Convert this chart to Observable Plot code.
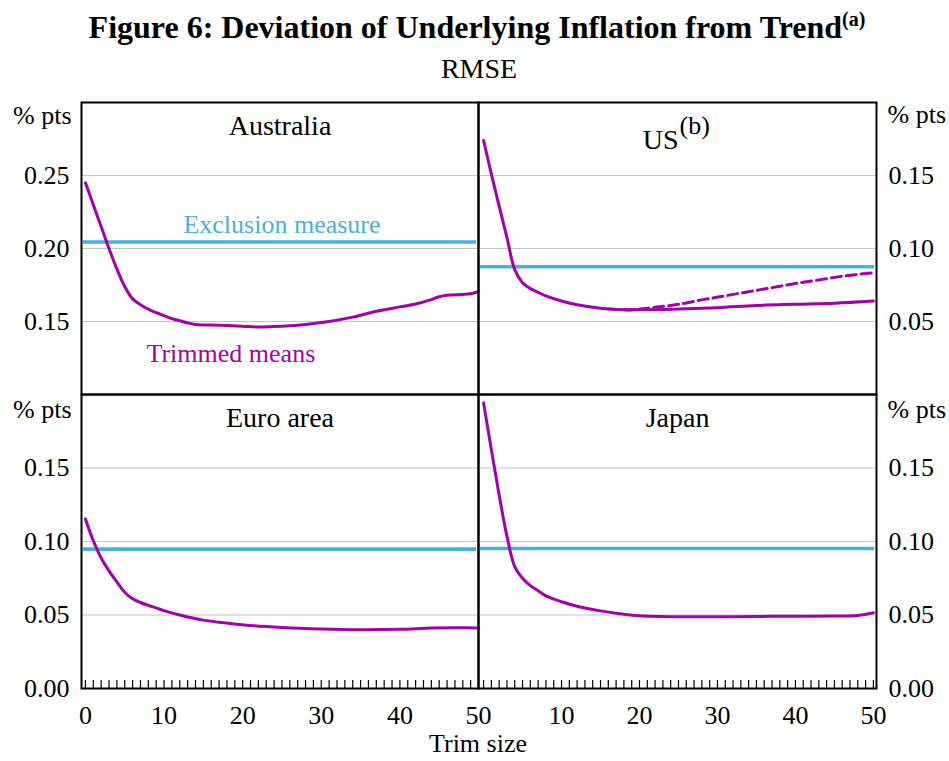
<!DOCTYPE html>
<html><head><meta charset="utf-8">
<script src="https://cdn.jsdelivr.net/npm/d3@7"></script>
<script src="https://cdn.jsdelivr.net/npm/@observablehq/plot@0.6"></script>
<style>
body{margin:0;background:#fff;}
#root{position:relative;width:949px;height:761px;font-family:"Liberation Serif","Times New Roman",serif;color:#000;overflow:hidden;background:#fff}
#root svg{position:absolute;max-width:none;overflow:visible}
.ttl{position:absolute;left:0;text-align:center;line-height:1;white-space:nowrap}
</style></head><body>
<div id="root">
<div class="ttl" style="top:11px;width:954px;font-size:32px;font-weight:bold">Figure 6: Deviation of Underlying Inflation from Trend<span style="font-size:20px;position:relative;top:-12px">(a)</span></div>
<div class="ttl" style="top:55px;width:958px;font-size:28px">RMSE</div>
<div class="ttl" style="top:731px;width:956px;font-size:26px">Trim size</div>
</div>
<script>
// ---- data ----
const trimAU = [0,1,2,3,4,5,6,7,8,9,10,11,12,13,14,17,20,22,25,28,31,34,37,40,42,44,45,46,48,49,50];
const rmseAU = [0.245,0.230,0.215,0.200,0.186,0.174,0.1655,0.1615,0.1585,0.156,0.154,0.152,0.1505,0.149,0.148,0.1475,0.1468,0.1462,0.1468,0.148,0.150,0.153,0.157,0.160,0.162,0.165,0.167,0.168,0.1685,0.169,0.1705];

const trimUS = [0,1,2,3,4,5,6,7,8,10,12,15,18,20,25,30,35,40,45,50];
const rmseUS = [0.174,0.151,0.129,0.1075,0.0855,0.0766,0.0725,0.070,0.0675,0.064,0.0615,0.059,0.058,0.058,0.0585,0.0595,0.061,0.0618,0.0625,0.064];
const trimUSb = [18,20,22,25,28,31,34,37,40,43,46,50];
const rmseUSb = [0.058,0.0585,0.0597,0.0618,0.0648,0.0676,0.0704,0.0732,0.076,0.0785,0.081,0.0834];

const trimEA = [0,1,2,3,4,5,6,7,8,9,10,12,15,18,21,25,30,35,40,44,47,50];
const rmseEA = [0.1153,0.1005,0.0888,0.080,0.0725,0.0655,0.061,0.0585,0.0565,0.0548,0.053,0.050,0.0465,0.0445,0.0428,0.0415,0.0405,0.0400,0.0403,0.0411,0.0413,0.0412];

const trimJP = [0,1,2,3,4,5,6,7,8,10,12,15,18,20,25,30,35,40,45,48,50];
const rmseJP = [0.1943,0.1625,0.1317,0.1035,0.0829,0.075,0.070,0.0665,0.063,0.059,0.056,0.0528,0.0505,0.0495,0.0488,0.0488,0.049,0.0492,0.0493,0.0497,0.0515];

const exclusion = {Australia: 0.2045, US: 0.0875, "Euro area": 0.0948, Japan: 0.0952};

const ticksAU = [0.15, 0.20, 0.25];
const ticksUS = [0.05, 0.10, 0.15];
const ticksLow = [0.00, 0.05, 0.10, 0.15];
const xTicksLeft = [0, 10, 20, 30, 40, 50];
const xTicksRight = [10, 20, 30, 40, 50];
const minorTicks = d3.range(0, 51);

const PURPLE = "#a100aa";
const BLUE = "#46b2da";
const FONT = '"Liberation Serif","Times New Roman",serif';

function rows(t, v) { return t.map((d, i) => ({trim: d, rmse: v[i]})); }

function panel(o) {
  const M = {l: 90, r: 90, t: 40, b: 70};
  const left = o.side === "left";
  const marks = [
    Plot.gridY(o.yTicks.filter(d => d > o.yDomain[0] + 1e-9), {stroke: "#c4c4c4", strokeOpacity: 1, strokeWidth: 1.2}),
    Plot.ruleY([exclusion[o.name]], {stroke: BLUE, strokeWidth: 3.6, insetLeft: 2, insetRight: 2}),
    Plot.line(rows(o.trim, o.rmse), {x: "trim", y: "rmse", stroke: PURPLE, strokeWidth: 3, curve: "catmull-rom"})
  ];
  if (o.trim2) marks.push(Plot.line(rows(o.trim2, o.rmse2), {x: "trim", y: "rmse", stroke: PURPLE, strokeWidth: 3, strokeDasharray: "10,5", curve: "catmull-rom"}));
  marks.push(
    Plot.axisY(o.yTicks, {anchor: o.side, tickSize: 0, tickPadding: 12, tickFormat: d3.format(".2f"), fontSize: 26, label: null}),
    Plot.text(["% pts"], {text: d => d, frameAnchor: left ? "top-left" : "top-right", textAnchor: left ? "end" : "start", dx: left ? -10 : 11, dy: o.ptsDy, lineAnchor: "bottom", fontSize: 26}),
    Plot.text([o.title], {text: d => d, frameAnchor: "top", textAnchor: o.sup ? "end" : "middle", dx: o.sup ? 1 : 0, dy: o.titleDy, lineAnchor: "bottom", fontSize: 28})
  );
  if (o.sup) marks.push(Plot.text([o.sup], {text: d => d, frameAnchor: "top", textAnchor: "start", dx: 2, dy: o.titleDy - 15, lineAnchor: "bottom", fontSize: 26}));
  if (o.xTicks) {
    marks.push(
      Plot.tickX(minorTicks, {x: d => d, insetTop: o.h - 8, stroke: "black", strokeWidth: 1.2}),
      Plot.axisX(o.xTicks, {anchor: "bottom", tickSize: 0, tickPadding: 17, fontSize: 26, label: null})
    );
  }
  if (o.labels) for (const L of o.labels) marks.push(Plot.text([L], {x: "x", y: "y", text: "text", fill: L.color, dy: L.dy, lineAnchor: "bottom", fontSize: 26}));
  marks.push(Plot.frame({stroke: "black", strokeWidth: 2}));

  const svg = Plot.plot({
    width: o.w + M.l + M.r,
    height: o.h + M.t + M.b,
    marginLeft: M.l, marginRight: M.r, marginTop: M.t, marginBottom: M.b,
    x: {domain: o.xDomain, axis: o.xTicks ? undefined : null},
    y: {domain: o.yDomain},
    style: {fontFamily: FONT, fontSize: "26px", background: "transparent", overflow: "visible", color: "black"},
    marks
  });
  svg.style.left = (o.x - M.l) + "px";
  svg.style.top = (o.y - M.t) + "px";
  document.getElementById("root").appendChild(svg);
}

panel({name: "Australia", title: "Australia", side: "left", x: 81, y: 102, w: 397, h: 292,
  xDomain: [-0.5, 50], yDomain: [0.10, 0.30], yTicks: ticksAU, trim: trimAU, rmse: rmseAU,
  ptsDy: 21, titleDy: 32,
  labels: [{x: 25, y: exclusion.Australia, text: "Exclusion measure", color: BLUE, dy: -9},
           {x: 18.5, y: 0.122, text: "Trimmed means", color: PURPLE, dy: 0}]});
panel({name: "US", title: "US", sup: "(b)", side: "right", x: 478, y: 102, w: 398, h: 292,
  xDomain: [-0.65, 50.4], yDomain: [0.0, 0.20], yTicks: ticksUS, trim: trimUS, rmse: rmseUS,
  trim2: trimUSb, rmse2: rmseUSb, ptsDy: 20, titleDy: 46});
panel({name: "Euro area", title: "Euro area", side: "left", x: 81, y: 394, w: 397, h: 294,
  xDomain: [-0.5, 50], yDomain: [0.0, 0.20], yTicks: ticksLow, trim: trimEA, rmse: rmseEA,
  ptsDy: 23, titleDy: 32, xTicks: xTicksLeft});
panel({name: "Japan", title: "Japan", side: "right", x: 478, y: 394, w: 398, h: 294,
  xDomain: [-0.65, 50.4], yDomain: [0.0, 0.20], yTicks: ticksLow, trim: trimJP, rmse: rmseJP,
  ptsDy: 23, titleDy: 32, xTicks: xTicksRight});
</script>
</body></html>
